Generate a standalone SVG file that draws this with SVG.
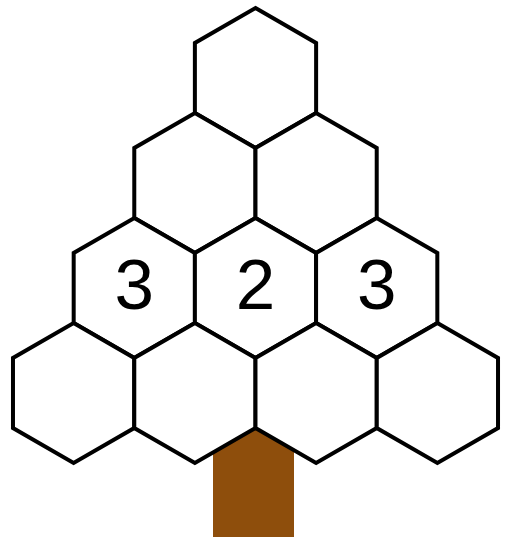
<svg xmlns="http://www.w3.org/2000/svg" xmlns:xlink="http://www.w3.org/1999/xlink" width="507" height="538" viewBox="0 0 507 538">
<style>
.hex{fill:#ffffff;stroke:#000000;stroke-width:4;stroke-linejoin:miter}
.num{font-family:"Liberation Sans",Arial,sans-serif;font-size:71px;fill:#000000;text-anchor:middle}
.trunk{fill:#8E4E0C}
</style>
<defs>
<polygon id="h" points="0,-70 60.62,-35 60.62,35 0,70 -60.62,35 -60.62,-35"/>
</defs>
<rect id="trunk" class="trunk" x="213" y="420" width="81" height="117"/>
<g id="hex-r1-1"><use xlink:href="#h" class="hex" transform="translate(255.5,78)"/></g>
<g id="hex-r2-1"><use xlink:href="#h" class="hex" transform="translate(194.9,183)"/></g>
<g id="hex-r2-2"><use xlink:href="#h" class="hex" transform="translate(316.1,183)"/></g>
<g id="hex-r3-1"><use xlink:href="#h" class="hex" transform="translate(134.3,288)"/><text class="num" x="134.3" y="309">3</text></g>
<g id="hex-r3-2"><use xlink:href="#h" class="hex" transform="translate(255.5,288)"/><text class="num" x="255.5" y="309">2</text></g>
<g id="hex-r3-3"><use xlink:href="#h" class="hex" transform="translate(376.7,288)"/><text class="num" x="376.7" y="309">3</text></g>
<g id="hex-r4-1"><use xlink:href="#h" class="hex" transform="translate(73.6,393)"/></g>
<g id="hex-r4-2"><use xlink:href="#h" class="hex" transform="translate(194.9,393)"/></g>
<g id="hex-r4-3"><use xlink:href="#h" class="hex" transform="translate(316.1,393)"/></g>
<g id="hex-r4-4"><use xlink:href="#h" class="hex" transform="translate(437.4,393)"/></g>
<g id="connectors"></g>
</svg>
